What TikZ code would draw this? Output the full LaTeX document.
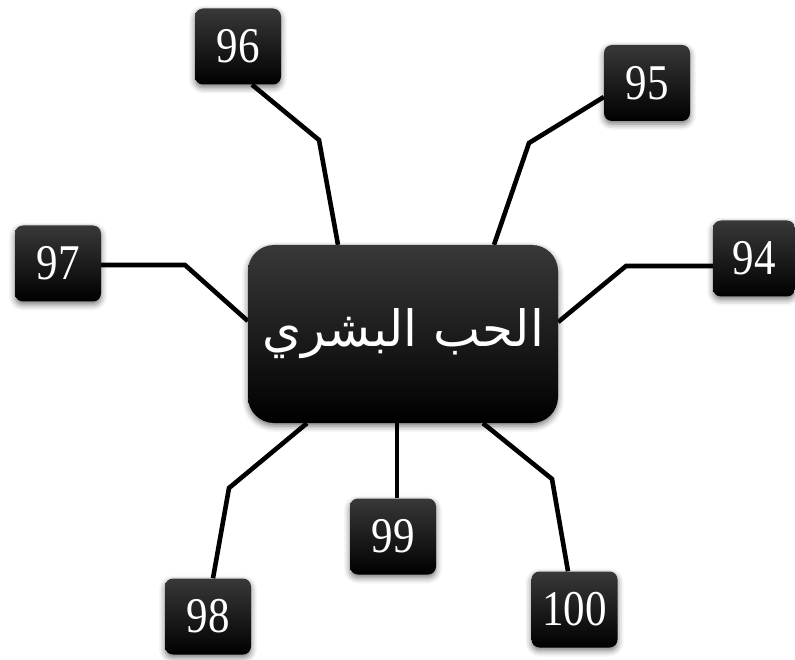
\documentclass[tikz,border=0pt]{standalone}
\usepackage{fontspec}
\setmainfont{Liberation Serif}
\newfontfamily\arabicfont[Script=Arabic]{DejaVu Sans}
\TeXXeTstate=1
\usetikzlibrary{calc,backgrounds,shadows.blur}
\newcommand\digs[1]{\scalebox{0.86}[1]{#1}}
\tikzset{
  boxshade/.style={top color=black!78, middle color=black, bottom color=black, draw=none},
  boxshadow/.style={blur shadow={shadow xshift=0pt, shadow yshift=-3pt, shadow blur radius=6pt, shadow opacity=55}},
  numbox/.style={boxshade, boxshadow, rounded corners=8pt, minimum width=86pt, minimum height=76pt,
    inner sep=0pt, text=white, font=\fontsize{50}{50}\selectfont},
  mainbox/.style={boxshade, boxshadow, rounded corners=26pt, minimum width=310pt, minimum height=178pt,
    inner sep=0pt, text=white, font=\arabicfont\fontsize{50}{50}\selectfont},
  link/.style={line width=4.6pt, black, line join=miter}
}
\begin{document}
\begin{tikzpicture}[x=1pt,y=-1pt]
\useasboundingbox (0,0) rectangle (795,660);
\node[mainbox] (c) at (403,334) {\beginR الحب البشري\endR};
\node[numbox] (b96) at (238,46.5) {\digs{96}};
\node[numbox] (b95) at (647,83) {\digs{95}};
\node[numbox] (b97) at (58,263.5) {\digs{97}};
\node[numbox, minimum width=82pt] (b94) at (754,258.5) {\digs{94}};
\node[numbox] (b99) at (393,536.5) {\digs{99}};
\node[numbox] (b98) at (208,616.5) {\digs{98}};
\node[numbox] (b100) at (574.5,609.5) {\digs{100}};
\coordinate (k96) at (319,140);
\coordinate (k95) at (529,143);
\coordinate (k97) at (185,265);
\coordinate (k94) at (626,266);
\coordinate (k98) at (229,488);
\coordinate (k100) at (552,479);
\begin{pgfonlayer}{background}
\draw[link] ($(b96.south)+(14,0)$) -- (k96) -- ($(c.north)+(-65,0)$);
\draw[link] ($(b95.west)+(0,14)$) -- (k95) -- ($(c.north)+(91,0)$);
\draw[link] ($(b97.east)+(0,1.5)$) -- (k97) -- ($(c.west)+(0,-13)$);
\draw[link] ($(b94.west)+(0,7.5)$) -- (k94) -- ($(c.east)+(0,-12)$);
\draw[link] ($(b98.north)+(5,0)$) -- (k98) -- ($(c.south)+(-96,0)$);
\draw[link] ($(b99.north)+(4,0)$) -- ($(c.south)+(-6,0)$);
\draw[link] ($(b100.north)+(-6.5,0)$) -- (k100) -- ($(c.south)+(80,0)$);
\end{pgfonlayer}
\end{tikzpicture}
\end{document}
